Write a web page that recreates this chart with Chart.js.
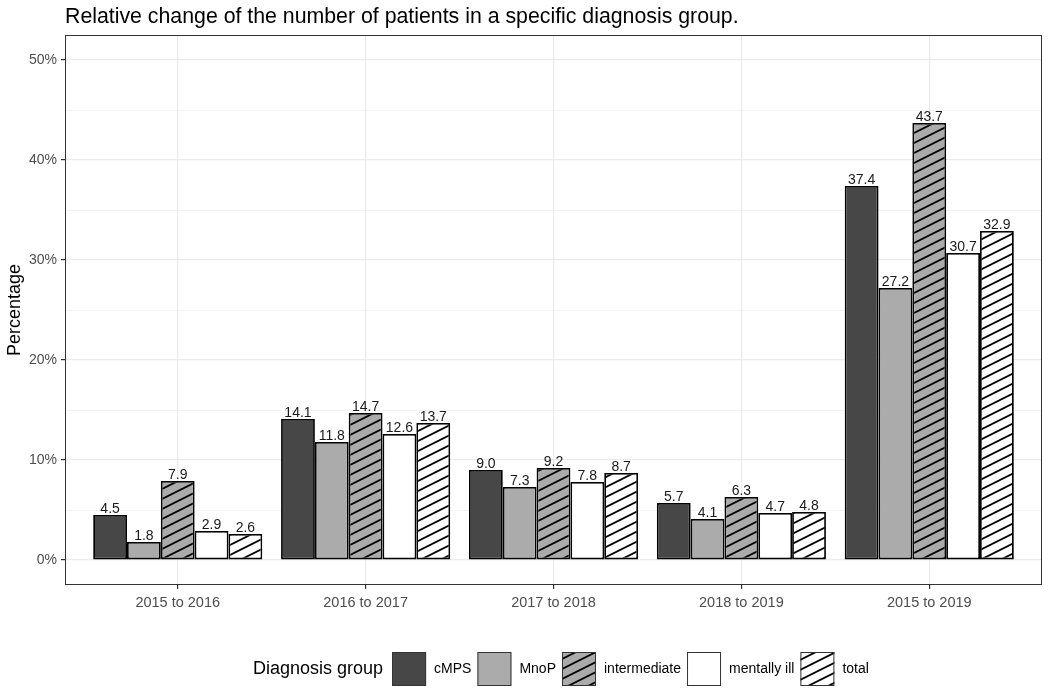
<!DOCTYPE html>
<html>
<head>
<meta charset="utf-8">
<script src="https://cdn.jsdelivr.net/npm/chart.js@4"></script>
<style>
  html, body { margin: 0; padding: 0; background: #fff; }
  #wrap { width: 1053px; height: 691px; position: relative; }
</style>
</head>
<body>
<div id="wrap"><canvas id="chart"></canvas></div>
<script>
const categories = ["2015 to 2016", "2016 to 2017", "2017 to 2018", "2018 to 2019", "2015 to 2019"];
const cMPS = [4.5, 14.1, 9.0, 5.7, 37.4];
const MnoP = [1.8, 11.8, 7.3, 4.1, 27.2];
const intermediate = [7.9, 14.7, 9.2, 6.3, 43.7];
const mentallyIll = [2.9, 12.6, 7.8, 4.7, 30.7];
const total = [2.6, 13.7, 8.7, 4.8, 32.9];
const yTicks = [0, 5, 10, 15, 20, 25, 30, 35, 40, 45, 50];

const FONT = "'Liberation Sans', Arial, sans-serif";

// diagonal hatching like ggpattern stripes
function hatch(bg) {
  const c = document.createElement("canvas");
  c.width = 20; c.height = 10;
  const g = c.getContext("2d");
  g.fillStyle = bg;
  g.fillRect(0, 0, 20, 10);
  g.strokeStyle = "#000";
  g.lineWidth = 1.8;
  [-10, 0, 10].forEach(off => {
    g.beginPath();
    g.moveTo(-2, 10 + off + 1);
    g.lineTo(22, off - 1);
    g.stroke();
  });
  return g.createPattern(c, "repeat");
}

const toPoints = arr => arr.map((v, i) => ({ x: i + 1, y: v }));

const series = [
  { label: "cMPS", data: cMPS, fill: "#474747" },
  { label: "MnoP", data: MnoP, fill: "#ababab" },
  { label: "intermediate", data: intermediate, fill: hatch("#ababab") },
  { label: "mentally ill", data: mentallyIll, fill: "#ffffff" },
  { label: "total", data: total, fill: hatch("#ffffff") }
];

// value labels above bars
const valueLabels = {
  id: "valueLabels",
  afterDatasetsDraw(chart) {
    const ctx = chart.ctx;
    ctx.save();
    ctx.font = "14px " + FONT;
    ctx.fillStyle = "#1a1a1a";
    ctx.textAlign = "center";
    ctx.textBaseline = "bottom";
    chart.data.datasets.forEach((ds, di) => {
      chart.getDatasetMeta(di).data.forEach((bar, i) => {
        ctx.fillText(ds.data[i].y.toFixed(1), bar.x, bar.y + 1);
      });
    });
    ctx.restore();
  }
};

// title, y title, panel border, legend
const decor = {
  id: "decor",
  afterDraw(chart) {
    const ctx = chart.ctx;
    const a = chart.chartArea;
    ctx.save();
    ctx.strokeStyle = "#333";
    ctx.lineWidth = 1;
    ctx.strokeRect(a.left + 0.5, a.top + 0.5, a.right - a.left - 1, a.bottom - a.top - 1);

    ctx.fillStyle = "#000";
    ctx.font = "21.3px " + FONT;
    ctx.textAlign = "left";
    ctx.textBaseline = "alphabetic";
    ctx.fillText("Relative change of the number of patients in a specific diagnosis group.", a.left, 23);

    ctx.font = "18px " + FONT;
    ctx.translate(20, (a.top + a.bottom) / 2);
    ctx.rotate(-Math.PI / 2);
    ctx.textAlign = "center";
    ctx.fillText("Percentage", 0, 0);
    ctx.restore();

    // legend
    ctx.save();
    const cy = 669;
    let x = 253;
    ctx.fillStyle = "#000";
    ctx.textBaseline = "middle";
    ctx.textAlign = "left";
    ctx.font = "18px " + FONT;
    ctx.fillText("Diagnosis group", x, cy);
    x += ctx.measureText("Diagnosis group").width + 9;
    ctx.font = "14px " + FONT;
    const box = 34;
    chart.data.datasets.forEach(ds => {
      ctx.fillStyle = ds.backgroundColor;
      ctx.fillRect(x, cy - box / 2, box, box);
      ctx.strokeStyle = "#333";
      ctx.lineWidth = 1;
      ctx.strokeRect(x + 0.5, cy - box / 2 + 0.5, box - 1, box - 1);
      x += box + 8;
      ctx.fillStyle = "#000";
      ctx.fillText(ds.label, x, cy);
      x += ctx.measureText(ds.label).width + 6;
    });
    ctx.restore();
  }
};

new Chart(document.getElementById("chart"), {
  type: "bar",
  data: {
    datasets: series.map(s => ({
      label: s.label,
      data: toPoints(s.data),
      backgroundColor: s.fill,
      borderColor: "#000",
      borderWidth: 1.8,
      borderSkipped: false
    }))
  },
  options: {
    responsive: true,
    maintainAspectRatio: false,
    animation: false,
    categoryPercentage: 0.9,
    barPercentage: 1.0,
    layout: { padding: { left: 0, right: 11, top: 35, bottom: 68 } },
    plugins: {
      legend: { display: false },
      tooltip: { enabled: false }
    },
    scales: {
      x: {
        type: "linear",
        offset: false,
        min: 0.4,
        max: 5.6,
        afterBuildTicks: s => { s.ticks = categories.map((c, i) => ({ value: i + 1 })); },
        afterFit: s => { s.height = 38; },
        ticks: {
          callback: v => categories[v - 1],
          font: { family: FONT, size: 14.5 },
          color: "#4d4d4d",
          padding: 5,
          maxRotation: 0,
          autoSkip: false
        },
        grid: { offset: false, color: "#ebebeb", lineWidth: 1.2, tickLength: 4, tickColor: "#333" },
        border: { display: false }
      },
      y: {
        min: -2.5,
        max: 52.5,
        afterBuildTicks: s => { s.ticks = yTicks.map(v => ({ value: v })); },
        afterFit: s => { s.width = 65; },
        ticks: {
          callback: v => (v % 10 === 0 ? v + "%" : ""),
          font: { family: FONT, size: 14 },
          color: "#4d4d4d",
          padding: 4
        },
        grid: {
          color: "#ebebeb",
          lineWidth: c => (c.tick && c.tick.value % 10 === 0 ? 1.2 : 0.6),
          tickLength: 4,
          tickColor: c => (c.tick && c.tick.value % 10 === 0 ? "#333" : "rgba(0,0,0,0)")
        },
        border: { display: false }
      }
    }
  },
  plugins: [valueLabels, decor]
});
</script>
</body>
</html>
